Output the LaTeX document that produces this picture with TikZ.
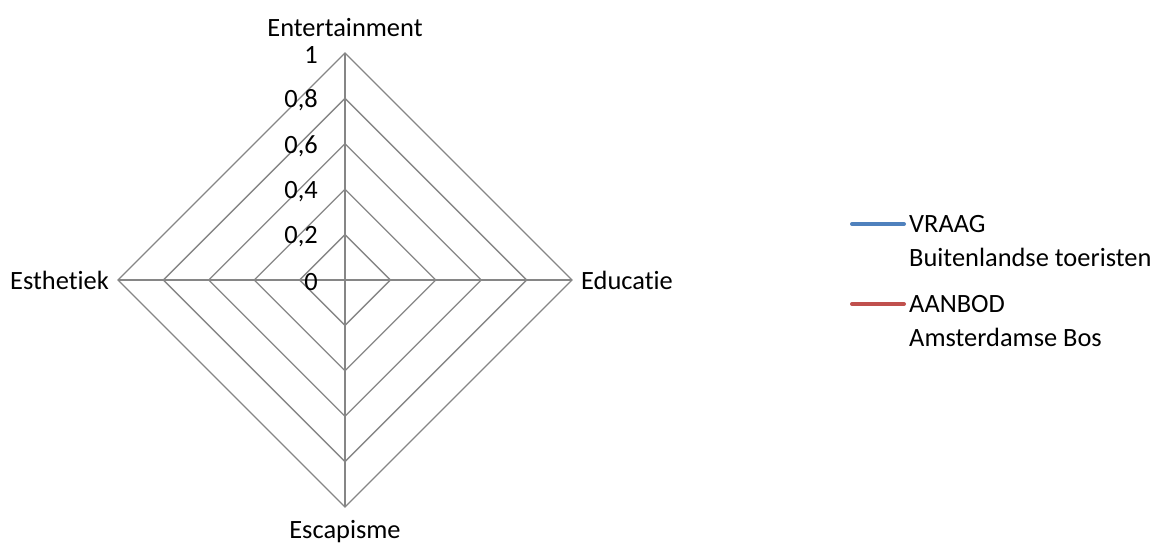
\documentclass[tikz,border=0pt]{standalone}
\usepackage{fontspec}
\setmainfont{Carlito}[RawFeature={-liga;-clig;-dlig}]
\usetikzlibrary{calc}
\definecolor{gridgray}{HTML}{868686}
\definecolor{seriesblue}{HTML}{4F81BD}
\definecolor{seriesred}{HTML}{C0504D}
\tikzset{
  gridline/.style={draw=gridgray, line width=1.3pt},
  axisline/.style={draw=gridgray, line width=1.8pt},
  axislabel/.style={font=\fontsize{26.4}{30}\selectfont, inner sep=0pt},
  ticklabel/.style={font=\fontsize{26.4}{30}\selectfont, inner sep=0pt, anchor=east},
  legendline/.style={line width=4pt, line cap=round},
  legendtext/.style={font=\fontsize{26.4}{30}\selectfont, inner sep=0pt, anchor=west}
}
\begin{document}
\begin{tikzpicture}[x=1pt, y=-1pt]
\useasboundingbox (0,0) rectangle (1158,545);
\coordinate (c) at (345,280);
% concentric diamonds, one per 0.2 step
\foreach \k in {1,...,5} {
  \pgfmathsetmacro{\r}{45.4*\k}
  \draw[gridline] ($(c)+(0,-\r)$) -- ($(c)+(\r,0)$) -- ($(c)+(0,\r)$) -- ($(c)+(-\r,0)$) -- cycle;
}
% axes
\coordinate (top) at (345,53);
\coordinate (right) at (572,280);
\coordinate (bottom) at (345,507);
\coordinate (left) at (118,280);
\draw[axisline] (c) -- (top);
\draw[axisline] (c) -- (right);
\draw[axisline] (c) -- (bottom);
\draw[axisline] (c) -- (left);
% scale labels
\foreach \v/\t in {0/0,1/{0,2},2/{0,4},3/{0,6},4/{0,8},5/1} {
  \node[ticklabel] (tick\v) at (318,{282-45.4*\v}) {\t};
}
% axis labels
\node[axislabel, anchor=south] (ent) at (345,37) {Entertainment};
\node[axislabel, anchor=west] (edu) at (581,280) {Educatie};
\node[axislabel, anchor=north] (esc) at (345,520) {Escapisme};
\node[axislabel, anchor=east] (est) at (109,280) {Esthetiek};
% legend
\coordinate (l1a) at (852,224);
\coordinate (l1b) at (904,224);
\draw[legendline, seriesblue] (l1a) -- (l1b);
\node[legendtext] (v1) at (909,224) {VRAAG};
\node[legendtext] (v2) at (909,257) {Buitenlandse toeristen};
\coordinate (l2a) at (852,304);
\coordinate (l2b) at (904,304);
\draw[legendline, seriesred] (l2a) -- (l2b);
\node[legendtext] (a1) at (909,304) {AANBOD};
\node[legendtext] (a2) at (909,337) {Amsterdamse Bos};
\end{tikzpicture}
\end{document}
